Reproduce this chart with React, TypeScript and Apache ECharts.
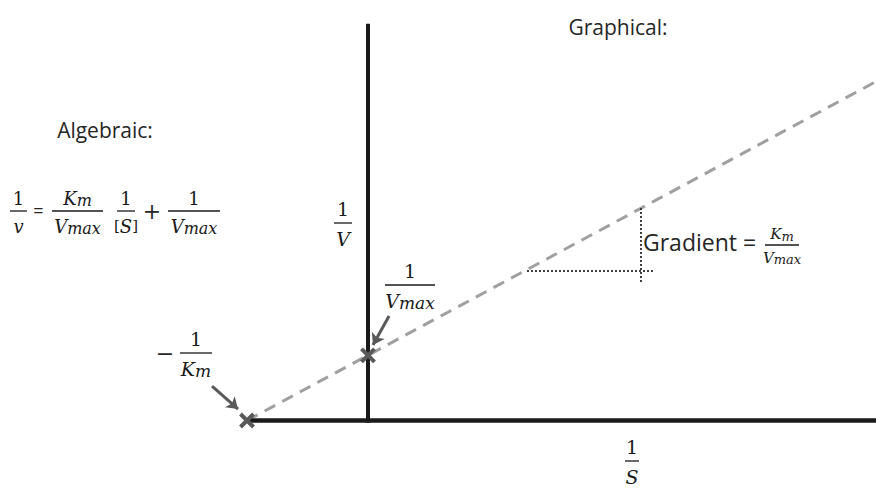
import React, { useEffect, useRef } from "react";
import * as echarts from "echarts";

// Lineweaver–Burk (double reciprocal) model, in arbitrary units
const KM = 1;
const VMAX = 1;
const X_RANGE = [-3.0413, 4.1983]; // 1/[S]
const Y_RANGE = [-1.0353, 6.4494]; // 1/v
const Y_AXIS_TOP = 6.084;

// gradient triangle (run / rise guide)
const RUN_X = [1.314, 2.372];
const RUN_Y = 2.293;
const RISE_X = 2.256;
const RISE_BOTTOM = 2.124;

// pointer arrows (tail -> head)
const ARROW_TO_VMAX = [[0.174, 1.603], [0.041, 1.158]];
const ARROW_TO_KM = [[-1.289, 0.529], [-1.074, 0.176]];

const INK = "#1a1a1a";
const TEXT = "#262626";
const MARK = "#595959";
const DASH = "#a0a0a0";
const SERIF = "DejaVu Serif";
const SANS = "Open Sans";

const recip = (x: number) => 1 / VMAX + (KM / VMAX) * x;

function mathRich(size: number) {
  const sub = Math.round(size * 0.88);
  return {
    i: { fontFamily: SERIF, fontStyle: "italic", fontSize: size, lineHeight: size + 2, fill: INK },
    s: { fontFamily: SERIF, fontStyle: "italic", fontSize: sub, lineHeight: sub, verticalAlign: "bottom", fill: INK },
    n: { fontFamily: SERIF, fontSize: size, lineHeight: size + 2, fill: INK },
    b: { fontFamily: SERIF, fontSize: Math.round(size * 0.85), lineHeight: size + 2, fill: INK },
  };
}

function mathText(x: number, y: number, text: string, size: number) {
  return {
    type: "text",
    x,
    y,
    silent: true,
    style: { text, align: "center", verticalAlign: "middle", rich: mathRich(size) },
  };
}

function fraction(cx: number, barY: number, barW: number, num: string, den: string, size: number) {
  return [
    mathText(cx, barY - 0.72 * size, num, size),
    {
      type: "line",
      silent: true,
      shape: { x1: cx - barW / 2, y1: barY, x2: cx + barW / 2, y2: barY },
      style: { stroke: INK, lineWidth: 1.3 },
    },
    mathText(cx, barY + 0.86 * size, den, size),
  ];
}

function plainText(x: number, y: number, text: string, size: number, align = "center", family = SANS) {
  return {
    type: "text",
    x,
    y,
    silent: true,
    style: { text, fontFamily: family, fontSize: size, fill: TEXT, align, verticalAlign: "middle" },
  };
}

export default function App() {
  const ref = useRef<HTMLDivElement>(null);

  useEffect(() => {
    document.body.style.margin = "0";
    if (!ref.current) return;
    const chart = echarts.init(ref.current, undefined, { renderer: "svg" });

    const xInt = -1 / KM;
    const xEnd = X_RANGE[1];

    const graphic: any[] = [
      plainText(105, 130, "Algebraic:", 21),
      plainText(618, 27, "Graphical:", 21),
      // 1/v = Km/Vmax · 1/[S] + 1/Vmax
      ...fraction(18.5, 211, 17, "{n|1}", "{i|v}", 18),
      plainText(38.5, 210, "=", 18),
      ...fraction(77.5, 211, 51, "{i|K}{s|m}", "{i|V}{s|max}", 18),
      ...fraction(126, 211, 18, "{n|1}", "{b|[}{i|S}{b|]}", 18),
      plainText(152, 211, "+", 22, "center", SERIF),
      ...fraction(194, 211, 52, "{n|1}", "{i|V}{s|max}", 18),
      // axis labels and intercepts
      ...fraction(343, 223, 18, "{n|1}", "{i|V}", 19),
      ...fraction(410, 285, 50, "{n|1}", "{i|V}{s|max}", 19),
      plainText(165, 353, "\u2212", 22, "center", SERIF),
      ...fraction(196, 353, 32, "{n|1}", "{i|K}{s|m}", 19),
      ...fraction(632, 461, 14, "{n|1}", "{i|S}", 19),
      // gradient annotation
      plainText(643, 242, "Gradient =", 23, "left"),
      ...fraction(782, 245, 34, "{i|K}{s|m}", "{i|V}{s|max}", 15),
    ];

    chart.setOption({
      animation: false,
      grid: { left: 0, right: 0, top: 0, bottom: 0, containLabel: false },
      xAxis: { type: "value", min: X_RANGE[0], max: X_RANGE[1], show: false },
      yAxis: { type: "value", min: Y_RANGE[0], max: Y_RANGE[1], show: false },
      graphic,
      series: [
        {
          type: "line",
          name: "model",
          silent: true,
          showSymbol: false,
          z: 2,
          lineStyle: { color: DASH, width: 3, type: [12, 8] },
          data: [
            [xInt, 0],
            [xEnd, recip(xEnd)],
          ],
        },
        {
          type: "line",
          name: "x axis",
          silent: true,
          showSymbol: false,
          z: 3,
          lineStyle: { color: INK, width: 4.5 },
          data: [
            [xInt, 0],
            [xEnd, 0],
          ],
        },
        {
          type: "line",
          name: "y axis",
          silent: true,
          showSymbol: false,
          z: 3,
          lineStyle: { color: INK, width: 4 },
          data: [
            [0, -0.035],
            [0, Y_AXIS_TOP],
          ],
        },
        {
          type: "line",
          name: "run",
          silent: true,
          showSymbol: false,
          z: 4,
          lineStyle: { color: "#000", width: 1.5, type: [2, 2] },
          data: [
            [RUN_X[0], RUN_Y],
            [RUN_X[1], RUN_Y],
          ],
        },
        {
          type: "line",
          name: "rise",
          silent: true,
          showSymbol: false,
          z: 4,
          lineStyle: { color: "#000", width: 1.5, type: [2, 2] },
          data: [
            [RISE_X, RISE_BOTTOM],
            [RISE_X, recip(RISE_X)],
          ],
        },
        {
          type: "scatter",
          name: "intercepts",
          silent: true,
          z: 6,
          symbol: "path://M0,0L10,10M10,0L0,10",
          symbolSize: 13,
          itemStyle: { color: "rgba(0,0,0,0)", borderColor: MARK, borderWidth: 4, opacity: 1 },
          data: [
            [xInt, 0],
            [0, 1 / VMAX],
          ],
        },
        {
          type: "lines",
          name: "pointers",
          coordinateSystem: "cartesian2d",
          silent: true,
          z: 7,
          symbol: ["none", "arrow"],
          symbolSize: 11,
          lineStyle: { color: MARK, width: 3, opacity: 1, curveness: 0 },
          data: [{ coords: ARROW_TO_VMAX }, { coords: ARROW_TO_KM }],
        },
      ],
    });

    return () => chart.dispose();
  }, []);

  return <div ref={ref} style={{ width: 876, height: 488 }} />;
}
